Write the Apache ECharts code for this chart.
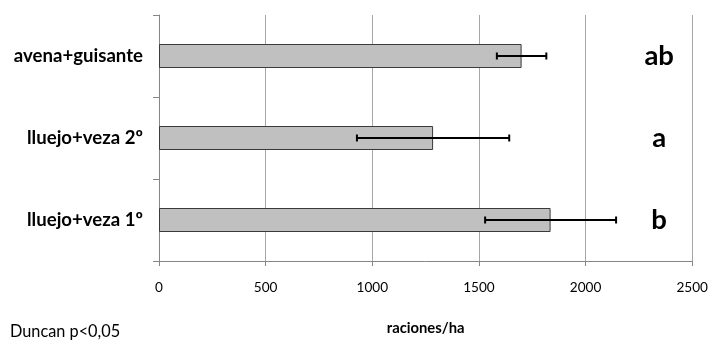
<!DOCTYPE html>
<html>
<head>
<meta charset="utf-8">
<script src="https://cdn.jsdelivr.net/npm/echarts@6/dist/echarts.min.js"></script>
<style>
  html, body { margin: 0; padding: 0; background: #fff; }
  #chart { width: 711px; height: 341px; }
</style>
</head>
<body>
<div id="chart"></div>
<script>
// Treatments, listed bottom to top as the category axis draws them
const categories = ['lluejo+veza 1º', 'lluejo+veza 2º', 'avena+guisante'];
// Mean yield (raciones/ha)
const means = [1836, 1285, 1700];
// Error bar half-width (raciones/ha)
const errors = [307, 357, 116];
// Duncan grouping letters
const groups = ['b', 'a', 'ab'];
// Value axis ticks
const xTicks = [0, 500, 1000, 1500, 2000, 2500];
// Value at which the group letters are centred
const letterX = 2345;

const FONT = 'Lato, "Open Sans", sans-serif';

const chart = echarts.init(document.getElementById('chart'), null, { renderer: 'canvas' });

const errorData = means.map((m, i) => [i, m - errors[i], m + errors[i]]);
const letterData = groups.map((g, i) => [letterX, i, g]);

chart.setOption({
  animation: false,
  backgroundColor: '#ffffff',
  grid: { left: 159, right: 18, top: 15, bottom: 76, containLabel: false },
  xAxis: {
    type: 'value',
    min: xTicks[0],
    max: xTicks[xTicks.length - 1],
    interval: xTicks[1] - xTicks[0],
    name: 'raciones/ha',
    nameLocation: 'middle',
    nameGap: 60,
    nameTextStyle: { fontFamily: FONT, fontWeight: 'bold', fontSize: 14.8, color: '#000' },
    axisLine: { show: true, lineStyle: { color: '#868686', width: 1 } },
    axisTick: { show: true, length: 5, lineStyle: { color: '#868686' } },
    axisLabel: {
      fontFamily: FONT, fontSize: 13.6, color: '#000', margin: 20,
      formatter: function (v) { return String(v); }
    },
    splitLine: { show: true, lineStyle: { color: '#a6a6a6', width: 1 } }
  },
  yAxis: {
    type: 'category',
    data: categories,
    axisLine: { show: true, lineStyle: { color: '#868686', width: 1 } },
    axisTick: { show: true, length: 6, inside: false, lineStyle: { color: '#868686' } },
    axisLabel: { fontFamily: FONT, fontSize: 18.6, fontWeight: 'bold', color: '#000', margin: 16 },
    splitLine: { show: false }
  },
  series: [
    {
      type: 'bar',
      data: means,
      barWidth: 24,
      itemStyle: { color: '#c0c0c0', borderColor: '#3a3a3a', borderWidth: 1 },
      z: 2
    },
    {
      type: 'custom',
      data: errorData,
      z: 3,
      renderItem: function (params, api) {
        const cat = api.value(0);
        const lo = api.coord([api.value(1), cat]);
        const hi = api.coord([api.value(2), cat]);
        const cap = 3.5;
        const style = { stroke: '#000', lineWidth: 2 };
        return {
          type: 'group',
          children: [
            { type: 'line', shape: { x1: lo[0], y1: lo[1], x2: hi[0], y2: hi[1] }, style: style },
            { type: 'line', shape: { x1: lo[0], y1: lo[1] - cap, x2: lo[0], y2: lo[1] + cap }, style: style },
            { type: 'line', shape: { x1: hi[0], y1: hi[1] - cap, x2: hi[0], y2: hi[1] + cap }, style: style }
          ]
        };
      }
    },
    {
      type: 'custom',
      data: letterData,
      z: 4,
      renderItem: function (params, api) {
        const p = api.coord([api.value(0), api.value(1)]);
        return {
          type: 'text',
          x: p[0],
          y: p[1],
          style: {
            text: groups[params.dataIndex],
            fontFamily: FONT,
            fontSize: 27.5,
            fontWeight: 'bold',
            fill: '#000',
            align: 'center',
            verticalAlign: 'middle'
          }
        };
      }
    }
  ],
  graphic: [
    {
      type: 'text',
      left: 10,
      top: 324,
      style: { text: 'Duncan p<0,05', fontFamily: FONT, fontSize: 16.3, fill: '#000' }
    }
  ]
});
</script>
</body>
</html>
